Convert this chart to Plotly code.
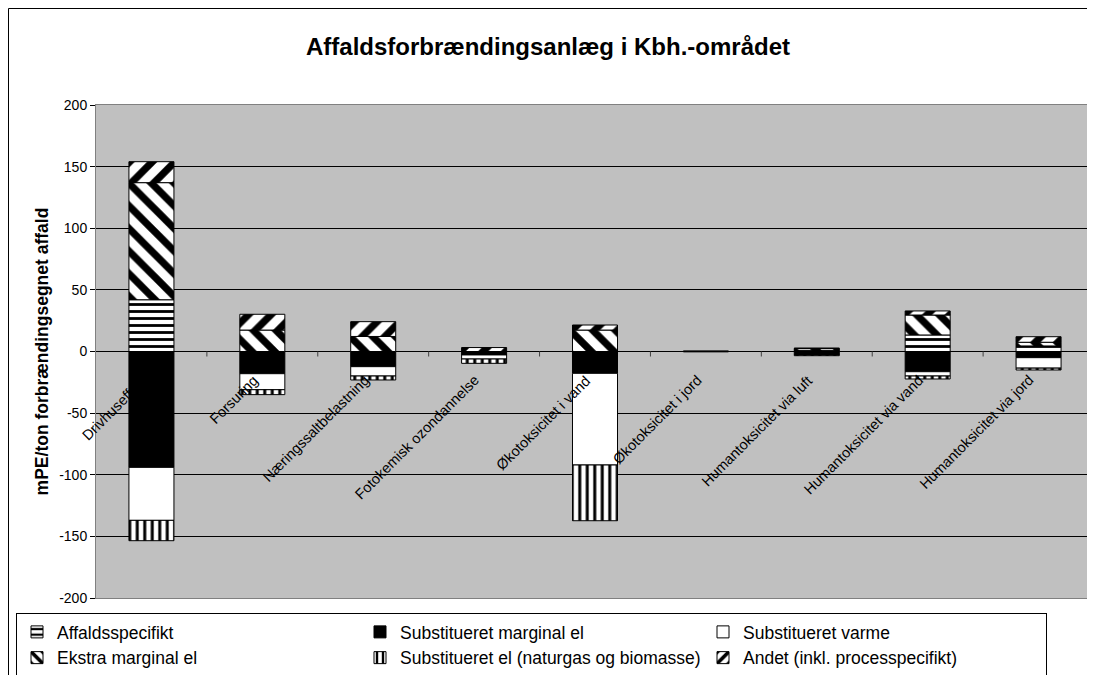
import plotly.graph_objects as go

categories = ["Drivhuseffekt", "Forsuring", "Næringssaltbelastning", "Fotokemisk ozondannelse",
              "Økotoksicitet i vand", "Økotoksicitet i jord", "Humantoksicitet via luft",
              "Humantoksicitet via vand", "Humantoksicitet via jord"]

affaldsspecifikt = [42, 0, 0, 0, 0, 0, 1.0, 13.4, 4.5]
subst_marginal_el = [-94, -18, -12.3, -2.8, -17.7, -0.3, -2.8, -16.4, -5]
subst_varme = [-43, -13, -7.6, -3.3, -74.4, 0, 0, -3.5, -8.5]
ekstra_marginal_el = [95, 17.4, 12.2, 0, 17.4, 0, 1.6, 16.2, 3]
subst_el_naturgas = [-16.5, -4, -3.2, -3.5, -45.2, 0, -0.6, -2.4, -1.5]
andet = [17, 12.8, 12, 3.2, 4.1, 0.5, 0, 3.3, 4.5]

y_ticks = [200, 150, 100, 50, 0, -50, -100, -150, -200]

FONT = "Arial, Liberation Sans, sans-serif"

def pat(shape, size, solidity):
    return dict(shape=shape, fgcolor="black", bgcolor="white", size=size,
                solidity=solidity, fillmode="replace")

series = [
    ("Affaldsspecifikt", affaldsspecifikt, "white", pat("-", 7, 0.4)),
    ("Substitueret marginal el", subst_marginal_el, "black", None),
    ("Substitueret varme", subst_varme, "white", None),
    ("Ekstra marginal el", ekstra_marginal_el, "white", pat("\\", 16, 0.45)),
    ("Substitueret el (naturgas og biomasse)", subst_el_naturgas, "white", pat("|", 7.5, 0.4)),
    ("Andet (inkl. processpecifikt)", andet, "white", pat("/", 16, 0.45)),
]

W, H = 1087, 667          # page body has an 8px margin
L, R, T, B = 88, 1, 97, 77
PW, PH = W - L - R, H - T - B

fig = go.Figure()
for name, vals, color, pattern in series:
    marker = dict(color=color, line=dict(color="black", width=1))
    if pattern:
        marker["pattern"] = pattern
    fig.add_trace(go.Bar(name=name, x=categories, y=vals, marker=marker))

# category labels drawn at the zero line
for c in categories:
    fig.add_annotation(x=c, y=0, xref="x", yref="y", text=c, showarrow=False,
                       textangle=-45, xanchor="right", yanchor="top",
                       xshift=1, yshift=-18, font=dict(family=FONT, size=14.5, color="black"))

# small category-boundary ticks on the zero line
for i in range(len(categories) - 1):
    fig.add_shape(type="line", xref="x", yref="y", x0=i + 0.5, x1=i + 0.5,
                  ysizemode="pixel", yanchor=0, y0=0, y1=-5,
                  line=dict(color="#404040", width=1))

# outer chart border
fig.add_shape(type="rect", xref="paper", yref="paper",
              x0=(0.5 - L) / PW, x1=1.2, y0=-0.4, y1=1 + (T - 0.5) / PH,
              line=dict(color="black", width=1), fillcolor="rgba(0,0,0,0)", layer="below")

fig.update_layout(
    width=W, height=H,
    barmode="relative", bargap=0.594,
    paper_bgcolor="white", plot_bgcolor="#C0C0C0",
    margin=dict(l=L, r=R, t=T, b=B, autoexpand=False),
    font=dict(family=FONT, size=14, color="black"),
    title=dict(text="<b>Affaldsforbrændingsanlæg i Kbh.-området</b>",
               x=540 / W, xref="container", xanchor="center",
               y=1 - 39 / H, yref="container", yanchor="middle",
               font=dict(family=FONT, size=24, color="black")),
    showlegend=True,
    legend=dict(orientation="h", x=(8 - L) / PW, xanchor="left",
                y=-15 / PH, yanchor="top", xref="paper", yref="paper",
                bgcolor="white", bordercolor="black", borderwidth=1,
                entrywidth=298, entrywidthmode="pixels", traceorder="normal",
                font=dict(family=FONT, size=17.5, color="black")),
)

fig.update_xaxes(range=[-0.5, len(categories) - 0.5], autorange=False,
                 showticklabels=False, showgrid=False, zeroline=False,
                 showline=True, linecolor="#808080", mirror=True, ticks="")
fig.update_yaxes(range=[-200, 200], autorange=False, tickvals=y_ticks,
                 ticktext=[str(v) for v in y_ticks],
                 showgrid=True, gridcolor="black", gridwidth=1,
                 zeroline=True, zerolinecolor="black", zerolinewidth=1,
                 showline=True, linecolor="#808080", mirror=True,
                 ticks="outside", ticklen=5, tickcolor="black",
                 tickfont=dict(family=FONT, size=14, color="black"),
                 title=dict(text="<b>mPE/ton forbrændingsegnet affald</b>", standoff=6,
                            font=dict(family=FONT, size=17.5, color="black")))

fig.write_html("out.html")
